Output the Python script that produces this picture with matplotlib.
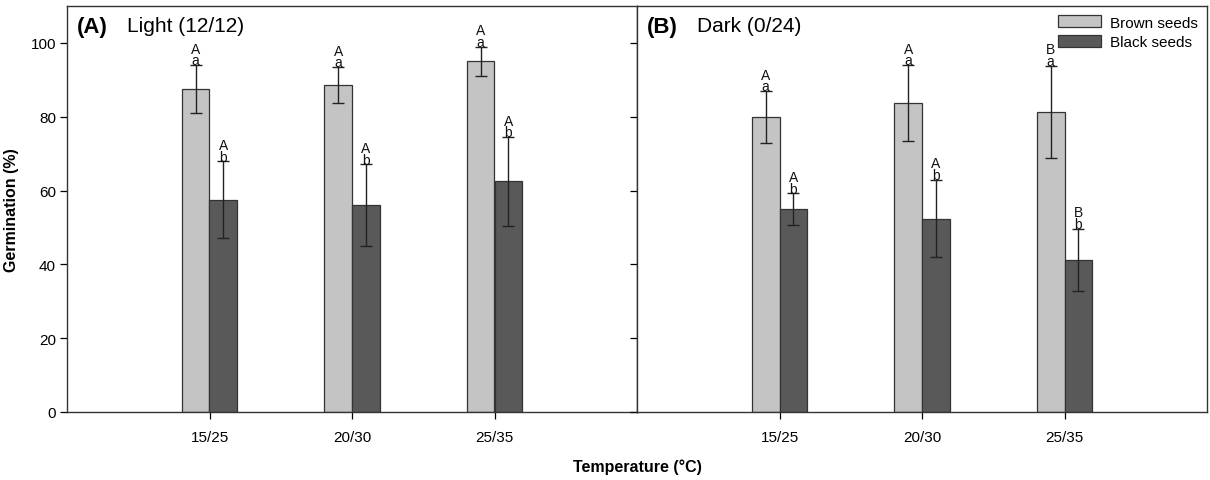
import matplotlib
matplotlib.use("Agg")
import matplotlib.pyplot as plt
from matplotlib.patches import Patch
import numpy as np

plt.rcParams['font.family'] = ['Liberation Sans', 'DejaVu Sans']

categories = ["15/25", "20/30", "25/35"]

light_brown = [87.5, 88.6, 95.0]
light_brown_err = [6.5, 4.8, 4.0]
light_black = [57.5, 56.1, 62.5]
light_black_err = [10.4, 11.0, 12.0]
light_brown_upper = ["A", "A", "A"]
light_brown_lower = ["a", "a", "a"]
light_black_upper = ["A", "A", "A"]
light_black_lower = ["b", "b", "b"]

dark_brown = [80.0, 83.7, 81.3]
dark_brown_err = [7.0, 10.3, 12.5]
dark_black = [55.0, 52.4, 41.2]
dark_black_err = [4.2, 10.5, 8.5]
dark_brown_upper = ["A", "A", "B"]
dark_brown_lower = ["a", "a", "a"]
dark_black_upper = ["A", "A", "B"]
dark_black_lower = ["b", "b", "b"]

panel_bold = ["(A)", "(B)"]
panel_text = ["Light (12/12)", "Dark (0/24)"]
yticks = [0, 20, 40, 60, 80, 100]

brown_color = "#c4c4c4"
black_color = "#595959"
edge = "#333333"

fig = plt.figure(figsize=(12.1, 4.81), dpi=100)
W, H = 1210, 481
ax1 = fig.add_axes([67 / W, (481 - 413) / H, 570 / W, 406 / H])
ax2 = fig.add_axes([637 / W, (481 - 413) / H, 570 / W, 406 / H])

x = np.arange(1, len(categories) + 1)
bw = 0.195

panels = [
    (ax1, light_brown, light_brown_err, light_black, light_black_err,
     light_brown_upper, light_brown_lower, light_black_upper, light_black_lower),
    (ax2, dark_brown, dark_brown_err, dark_black, dark_black_err,
     dark_brown_upper, dark_brown_lower, dark_black_upper, dark_black_lower),
]

for i, (ax, br, bre, bl, ble, bu, blo, ku, klo) in enumerate(panels):
    ax.bar(x - bw / 2, br, bw, color=brown_color, edgecolor=edge, linewidth=0.9, zorder=2)
    ax.bar(x + bw / 2, bl, bw, color=black_color, edgecolor=edge, linewidth=0.9, zorder=2)
    ax.errorbar(x - bw / 2, br, yerr=bre, fmt='none', ecolor='#222222',
                elinewidth=1.0, capsize=4.5, capthick=1.0, zorder=3)
    ax.errorbar(x + bw / 2, bl, yerr=ble, fmt='none', ecolor='#222222',
                elinewidth=1.0, capsize=4.5, capthick=1.0, zorder=3)
    for j in range(len(categories)):
        for xx, v, e, up, lo in [(x[j] - bw / 2, br[j], bre[j], bu[j], blo[j]),
                                 (x[j] + bw / 2, bl[j], ble[j], ku[j], klo[j])]:
            ax.annotate(up + "\n" + lo, (xx, v + e), xytext=(0, -1.6),
                        textcoords='offset points', ha='center', va='bottom',
                        multialignment='center', linespacing=0.78,
                        fontsize=10, color='#111111')
    ax.set_xlim(0, 4)
    ax.set_ylim(0, 110)
    ax.set_xticks(x)
    ax.set_xticklabels(categories, fontsize=11)
    ax.set_yticks(yticks)
    ax.tick_params(direction='out', length=5, width=0.9, labelsize=11)
    ax.tick_params(axis='x', pad=8)
    ax.tick_params(axis='y', pad=3)
    for s in ax.spines.values():
        s.set_linewidth(1.0)
        s.set_color('#333333')
    ax.text(0.018, 0.975, panel_bold[i], transform=ax.transAxes, fontsize=16,
            fontweight='bold', va='top', ha='left')
    ax.text(0.106, 0.975, panel_text[i],
            transform=ax.transAxes, fontsize=15, va='top', ha='left')

ax2.set_yticklabels([])

handles = [Patch(facecolor=brown_color, edgecolor=edge, linewidth=0.9, label="Brown seeds"),
           Patch(facecolor=black_color, edgecolor=edge, linewidth=0.9, label="Black seeds")]
ax2.legend(handles=handles, loc='upper right', frameon=False, fontsize=11,
           handlelength=2.8, handleheight=0.85, borderaxespad=0.2, labelspacing=0.35,
           handletextpad=0.6)

ax1.set_ylabel("Germination (%)", fontsize=11.5, fontweight='bold', labelpad=8)
fig.text(637 / W, 1 - 467 / H, "Temperature (°C)", fontsize=11.5, fontweight='bold',
         ha='center', va='center')

fig.savefig("out.png", dpi=100)
